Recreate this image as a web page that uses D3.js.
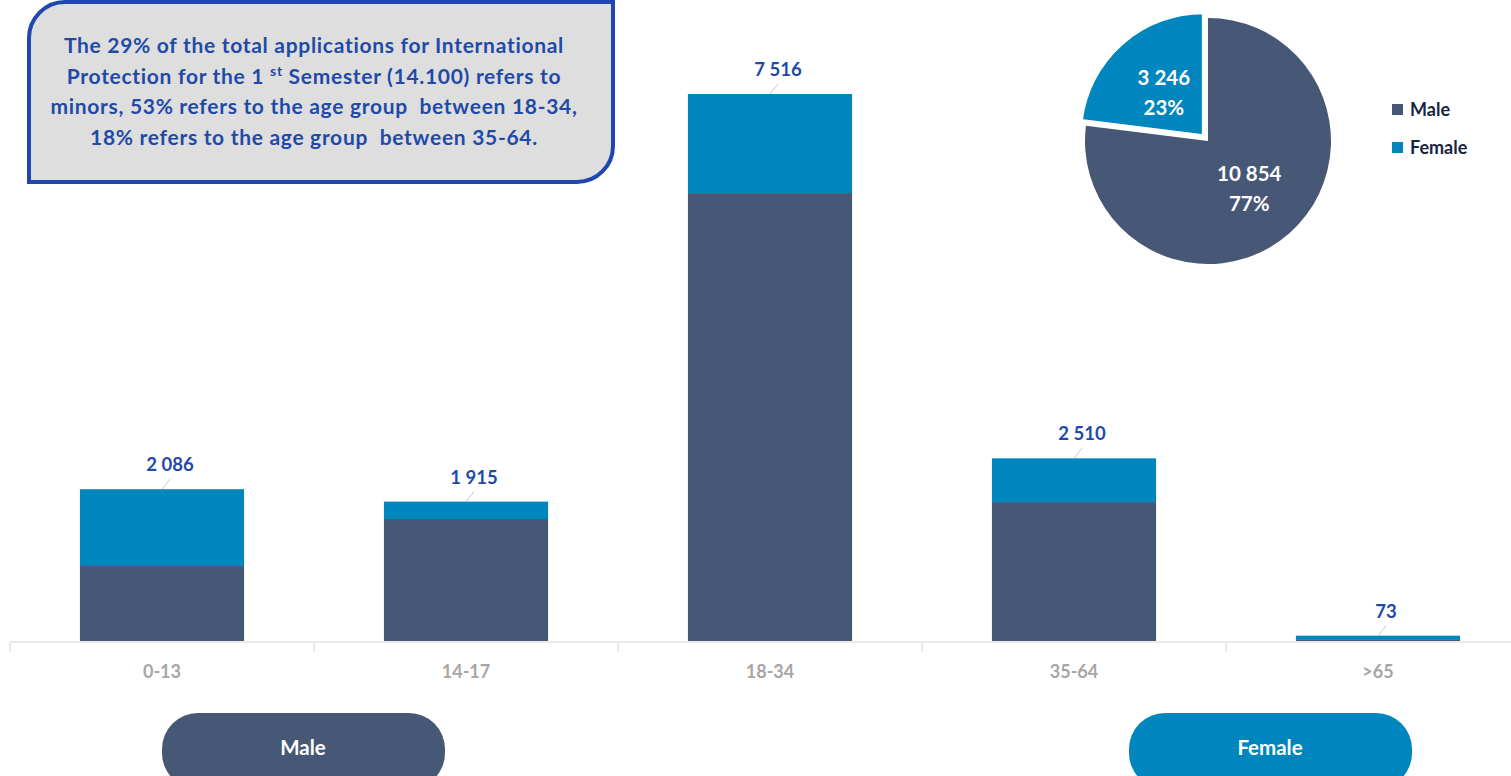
<!DOCTYPE html>
<html>
<head>
<meta charset="utf-8">
<style>
    body { margin: 0; background: #fff; }
    svg text { font-family: Lato, "Open Sans", sans-serif; font-weight: bold; }
</style>
</head>
<body>
<svg></svg>
<script src="https://cdnjs.cloudflare.com/ajax/libs/d3/7.8.5/d3.min.js"></script>
<script>
    // bar data: applications by age group, split by sex
    const categories = ["0-13", "14-17", "18-34", "35-64", ">65"];
    const maleValues = [1030, 1676, 6155, 1909, 15];
    const femaleValues = [1056, 239, 1361, 601, 58];

    // pie data
    const pieLabels = ["Male", "Female"];
    const pieValues = [10854, 3246];

    const noteLines = [
        ["The 29% of the total applications for International"],
        ["Protection for the 1 ", "st", " Semester (14.100) refers to"],
        ["minors, 53% refers to the age group\u00a0\u00a0between 18-34,"],
        ["18% refers to the age group\u00a0\u00a0between 35-64."]
    ];

    const width = 1511, height = 776;
    const colMale = "#475877", colFemale = "#0086be";
    const labelBlue = "#1f4aa8";

    const fmt = d3.formatLocale({decimal: ".", thousands: " ", grouping: [3], currency: ["", ""]}).format(",");

    const svg = d3.select("svg").attr("width", width).attr("height", height);

    // ---- bar chart ----
    const x = d3.scaleBand().domain(categories).range([10, 1530]).paddingInner(0.46).paddingOuter(0.23);
    const bandStep = x.step();
    const y = d3.scaleLinear().domain([0, 7516]).range([641, 94]);

    const rows = categories.map((c, i) => ({cat: c, Male: maleValues[i], Female: femaleValues[i]}));
    const stack = d3.stack().keys(["Male", "Female"])(rows);

    const axisG = svg.append("g");
    axisG.append("line")
        .attr("x1", 10).attr("x2", width).attr("y1", 642).attr("y2", 642)
        .attr("stroke", "#e3e3e3").attr("stroke-width", 1.5);
    axisG.selectAll(".tick").data(d3.range(categories.length + 1)).enter().append("line")
        .attr("x1", i => 10 + i * bandStep).attr("x2", i => 10 + i * bandStep)
        .attr("y1", 642).attr("y2", 652)
        .attr("stroke", "#e3e3e3").attr("stroke-width", 1.5);

    svg.append("g").selectAll("g").data(stack).enter().append("g")
        .attr("fill", d => d.key === "Male" ? colMale : colFemale)
        .selectAll("rect").data(d => d).enter().append("rect")
        .attr("x", d => x(d.data.cat))
        .attr("width", x.bandwidth())
        .attr("y", d => y(d[1]))
        .attr("height", d => y(d[0]) - y(d[1]));

    axisG.selectAll(".cat").data(categories).enter().append("text")
        .attr("x", d => x(d) + x.bandwidth() / 2)
        .attr("y", 678)
        .attr("text-anchor", "middle")
        .attr("fill", "#a6a6a6")
        .style("font-size", "18px")
        .text(d => d);

    // value labels with small leader lines
    const totals = rows.map(r => ({cat: r.cat, total: r.Male + r.Female}));
    svg.append("g").selectAll("line").data(totals).enter().append("line")
        .attr("x1", d => x(d.cat) + x.bandwidth() / 2)
        .attr("y1", d => y(d.total))
        .attr("x2", d => x(d.cat) + x.bandwidth() / 2 + 8)
        .attr("y2", d => y(d.total) - 10)
        .attr("stroke", "#c8c8c8").attr("stroke-width", 1);
    svg.append("g").selectAll("text").data(totals).enter().append("text")
        .attr("x", d => x(d.cat) + x.bandwidth() / 2 + 8)
        .attr("y", d => y(d.total) - 18)
        .attr("text-anchor", "middle")
        .attr("fill", labelBlue)
        .style("font-size", "18.5px")
        .text(d => fmt(d.total));

    // ---- note box ----
    const bx0 = 29, by0 = 2, bx1 = 613, by1 = 182, r = 36;
    svg.append("path")
        .attr("d", `M${bx0},${by0 + r} A${r},${r} 0 0 1 ${bx0 + r},${by0} L${bx1},${by0} L${bx1},${by1 - r}
            A${r},${r} 0 0 1 ${bx1 - r},${by1} L${bx0},${by1} Z`)
        .attr("fill", "#dedede").attr("stroke", "#1f47b0").attr("stroke-width", 4);

    const note = svg.append("g").attr("fill", labelBlue)
        .style("font-size", "21px").style("letter-spacing", "0.7px");
    noteLines.forEach((parts, i) => {
        const t = note.append("text").attr("x", 314).attr("y", 53 + i * 30.5).attr("text-anchor", "middle");
        parts.forEach((p, j) => {
            const ts = t.append("tspan").text(p);
            if (j === 1) ts.attr("dy", -8).style("font-size", "14px");
            if (j === 2) ts.attr("dy", 8);
        });
    });

    // ---- pie ----
    const cx = 1208, cy = 141, radius = 123;
    const pie = d3.pie().sort(null).value(d => d.value);
    const arcs = pie(pieLabels.map((l, i) => ({label: l, value: pieValues[i]})));
    const arc = d3.arc().innerRadius(0).outerRadius(radius);
    const total = d3.sum(pieValues);
    const pieG = svg.append("g").attr("transform", `translate(${cx},${cy})`);
    pieG.selectAll("path").data(arcs).enter().append("path")
        .attr("d", arc)
        .attr("transform", d => {
            if (d.data.label !== "Female") return null;
            const mid = (d.startAngle + d.endAngle) / 2;
            return `translate(${Math.sin(mid) * 7},${-Math.cos(mid) * 7})`;
        })
        .attr("fill", d => d.data.label === "Male" ? colMale : colFemale)
        .attr("stroke", "#fff")
        .attr("stroke-width", d => d.data.label === "Female" ? 3 : 0);

    const labelArc = d3.arc().innerRadius(radius * 0.58).outerRadius(radius * 0.58);
    const pl = pieG.selectAll(".pl").data(arcs).enter().append("text")
        .attr("transform", d => {
            const c = labelArc.centroid(d);
            if (d.data.label === "Female") return `translate(${c[0] + 3},${c[1] - 3})`;
            return `translate(${c[0] - 6},${c[1] - 13})`;
        })
        .attr("text-anchor", "middle")
        .attr("fill", "#fff")
        .style("font-size", "20.5px");
    pl.append("tspan").attr("x", 0).attr("dy", 0).text(d => fmt(d.data.value));
    pl.append("tspan").attr("x", 0).attr("dy", 30).text(d => Math.round(d.data.value / total * 100) + "%");

    // legend
    const leg = svg.append("g").selectAll("g").data(pieLabels).enter().append("g")
        .attr("transform", (d, i) => `translate(1392,${104 + i * 38})`);
    leg.append("rect").attr("width", 11).attr("height", 11)
        .attr("fill", d => d === "Male" ? colMale : colFemale);
    leg.append("text").attr("x", 18).attr("y", 12)
        .attr("fill", "#17243f").style("font-size", "18px").text(d => d);

    // ---- bottom pills ----
    const pills = [{label: "Male", x: 162, fill: colMale}, {label: "Female", x: 1129, fill: colFemale}];
    const pg = svg.append("g").selectAll("g").data(pills).enter().append("g");
    pg.append("rect")
        .attr("x", d => d.x).attr("y", 713).attr("width", 283).attr("height", 76)
        .attr("rx", 36).attr("fill", d => d.fill);
    pg.append("text")
        .attr("x", d => d.x + 141).attr("y", 755)
        .attr("text-anchor", "middle").attr("fill", "#fff")
        .style("font-size", "20.5px").text(d => d.label);
</script>
</body>
</html>
